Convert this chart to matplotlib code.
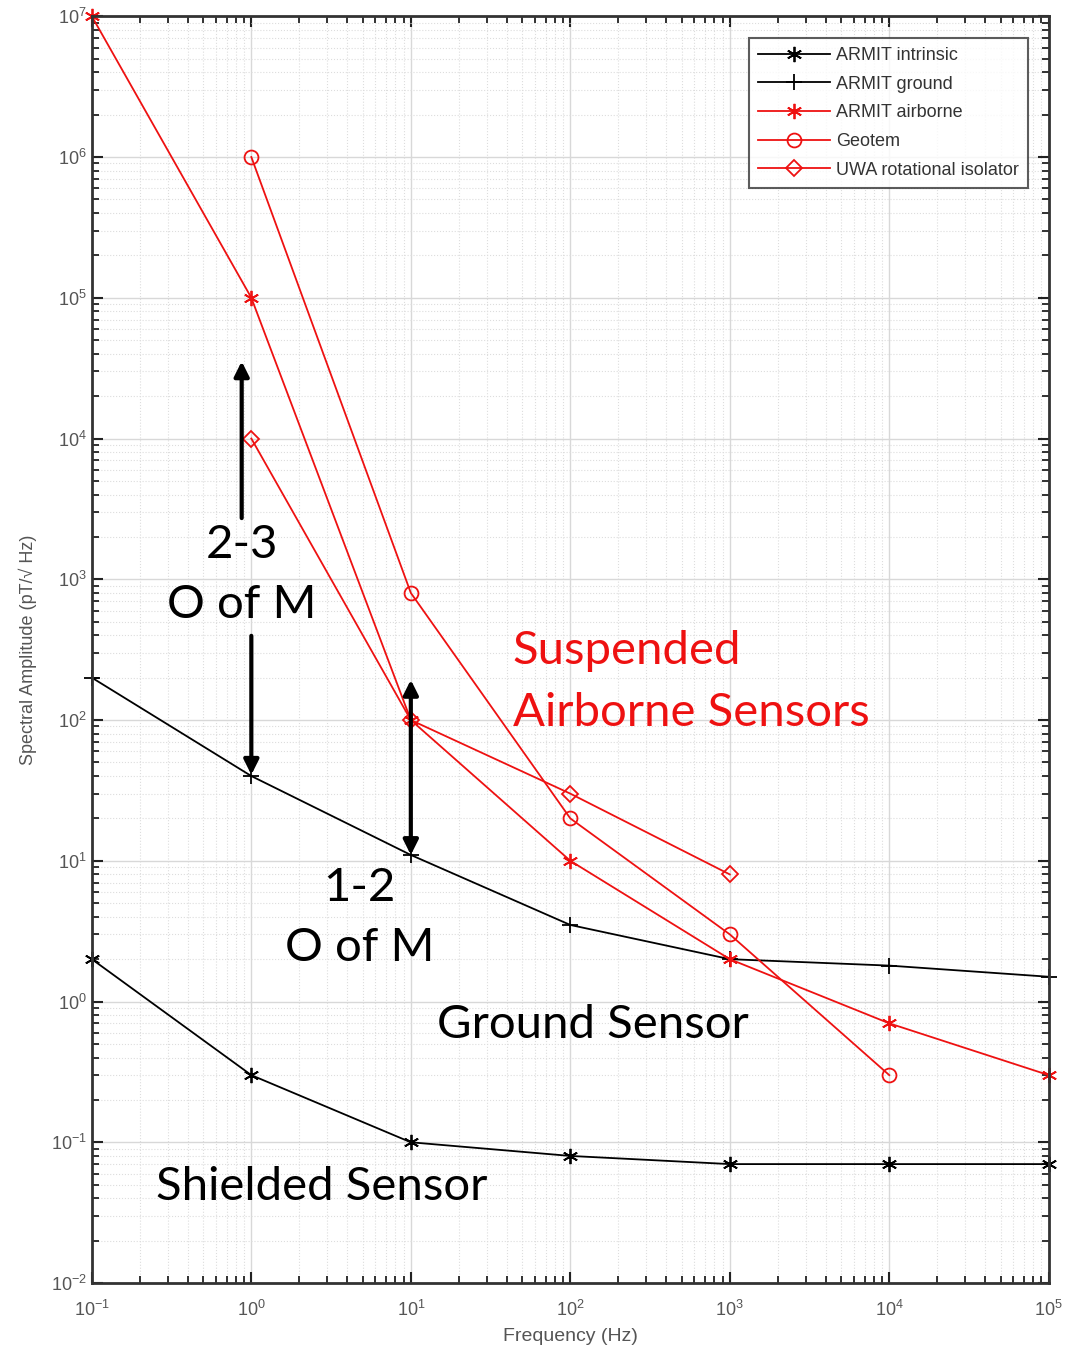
import numpy as np
import matplotlib
matplotlib.use('Agg')
import matplotlib.pyplot as plt
from matplotlib.ticker import LogLocator, NullFormatter

plt.rcParams['font.family'] = ['Liberation Sans', 'DejaVu Sans']

freq = [1e-1, 1e0, 1e1, 1e2, 1e3, 1e4, 1e5]
armit_intrinsic = [2.0, 0.3, 0.1, 0.08, 0.07, 0.07, 0.07]
armit_ground = [200, 40, 11, 3.5, 2.0, 1.8, 1.5]
armit_airborne = [1e7, 1e5, 100, 10, 2.0, 0.7, 0.3]
geotem_freq = [1e0, 1e1, 1e2, 1e3, 1e4]
geotem = [1e6, 800, 20, 3.0, 0.3]
uwa_freq = [1e0, 1e1, 1e2, 1e3]
uwa = [1e4, 100, 30, 8]

red = '#ee1111'

fig = plt.figure(figsize=(10.68, 13.57), dpi=100)
ax = fig.add_axes([0.086, 0.0545, 0.896, 0.9335])

ax.plot(freq, armit_intrinsic, '-', marker=(6, 2, 0), color='black', lw=1.3, ms=11,
        mew=1.3, label='ARMIT intrinsic', clip_on=False)
ax.plot(freq, armit_ground, '-', marker='+', color='black', lw=1.3, ms=12,
        mew=1.3, label='ARMIT ground', clip_on=False)
ax.plot(freq, armit_airborne, '-', marker=(6, 2, 0), color=red, lw=1.3, ms=11,
        mew=1.3, label='ARMIT airborne', clip_on=False)
ax.plot(geotem_freq, geotem, '-', marker='o', color=red, lw=1.3, ms=10,
        mfc='none', mew=1.3, label='Geotem', clip_on=False)
ax.plot(uwa_freq, uwa, '-', marker='D', color=red, lw=1.3, ms=8,
        mfc='none', mew=1.3, label='UWA rotational isolator', clip_on=False)

ax.set_xscale('log')
ax.set_yscale('log')
ax.set_xlim(1e-1, 1e5)
ax.set_ylim(1e-2, 1e7)

ax.xaxis.set_major_locator(LogLocator(base=10, numticks=20))
ax.yaxis.set_major_locator(LogLocator(base=10, numticks=20))
ax.xaxis.set_minor_locator(LogLocator(base=10, subs=np.arange(2, 10), numticks=100))
ax.yaxis.set_minor_locator(LogLocator(base=10, subs=np.arange(2, 10), numticks=100))
ax.xaxis.set_minor_formatter(NullFormatter())
ax.yaxis.set_minor_formatter(NullFormatter())

ax.grid(True, which='major', color='#d8d8d8', lw=1.0, ls='-')
ax.grid(True, which='minor', color='#dddddd', lw=0.8, ls=':')
ax.set_axisbelow(True)

ax.tick_params(which='both', direction='in', top=True, right=True, colors='#222222',
               labelcolor='#555555', labelsize=13)
ax.tick_params(which='major', length=8, width=1.5)
ax.tick_params(which='minor', length=5, width=1.3, labelbottom=False, labelleft=False)
ax.tick_params(axis='x', which='major', pad=12)
for s in ax.spines.values():
    s.set_linewidth(2.0)
    s.set_color('#333333')

ax.set_xlabel('Frequency (Hz)', fontsize=14, color='#555555', labelpad=6)
ax.set_ylabel('Spectral Amplitude (pT/\u221a Hz)', fontsize=13, color='#555555', labelpad=10)

leg = ax.legend(loc='upper right', bbox_to_anchor=(0.978, 0.983), borderaxespad=0,
                fontsize=13, frameon=True, fancybox=False, edgecolor='#333333',
                handlelength=4.0, borderpad=0.5, labelspacing=0.65, handletextpad=0.3)
leg.get_frame().set_linewidth(1.5)
for t in leg.get_texts():
    t.set_color('#333333')

# annotations
fnt = 'Lato'
fs = 34
arrow = dict(arrowstyle='-|>', color='black', lw=3, mutation_scale=22)
ax.annotate('', xy=(0.87, 3.7e4), xytext=(0.87, 2.6e3), arrowprops=arrow)
ax.annotate('', xy=(1.0, 39), xytext=(1.0, 415), arrowprops=arrow)
ax.annotate('', xy=(10, 202), xytext=(10, 10.5),
            arrowprops=dict(arrowstyle='<|-|>', color='black', lw=3, mutation_scale=22))

ax.text(0.87, 1750, '2-3', fontsize=fs, family=fnt, ha='center', va='center')
ax.text(0.87, 656, 'O of M', fontsize=fs, family=fnt, ha='center', va='center')
ax.text(4.79, 6.4, '1-2', fontsize=fs, family=fnt, ha='center', va='center')
ax.text(4.79, 2.4, 'O of M', fontsize=fs, family=fnt, ha='center', va='center')
ax.text(43.6, 309, 'Suspended', fontsize=fs, family=fnt, ha='left', va='center', color=red)
ax.text(43.6, 112, 'Airborne Sensors', fontsize=fs, family=fnt, ha='left', va='center', color=red)
ax.text(138, 0.68, 'Ground Sensor', fontsize=fs, family=fnt, ha='center', va='center')
ax.text(2.77, 0.048, 'Shielded Sensor', fontsize=fs, family=fnt, ha='center', va='center')

fig.savefig('out.png', dpi=100)
